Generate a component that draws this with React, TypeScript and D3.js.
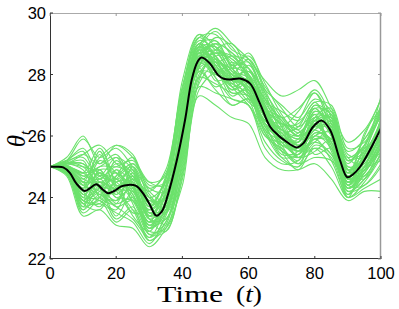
import React from "react";
import * as d3 from "d3";

const W = 399;
const H = 309;
const M = { left: 50, right: 18, top: 13, bottom: 50 };

const xTicks = [0, 20, 40, 60, 80, 100];
const yTicks = [22, 24, 26, 28, 30];

// mean trajectory (black)
const meanT = [0, 2, 4, 6, 8, 10.5, 12, 14, 16, 17.5, 19.5, 21.5, 23.6, 26, 28, 30, 32.1, 33.8, 35.6, 38.3, 40.8, 42.8, 44.5, 45.8, 48.3, 50.8, 52.5, 54.4, 57.4, 60.4, 63.4, 66.5, 69, 71, 74.5, 76.5, 79.5, 82.1, 84.6, 87.6, 89.8, 91.5, 93.7, 96.7, 100];
const meanV = [25.0, 25.0, 24.98, 24.8, 24.45, 24.21, 24.3, 24.43, 24.25, 24.14, 24.22, 24.36, 24.41, 24.38, 24.15, 23.8, 23.41, 23.55, 24.08, 25.2, 26.52, 27.82, 28.4, 28.55, 28.36, 27.98, 27.86, 27.84, 27.87, 27.71, 27.06, 26.3, 26.02, 25.85, 25.63, 25.76, 26.3, 26.5, 26.2, 25.22, 24.66, 24.75, 25.0, 25.55, 26.25];

// sample trajectories (green), knots every 5 time units
const sampleT = [0, 5, 10, 15, 20, 25, 30, 35, 40, 45, 50, 55, 60, 65, 70, 75, 80, 85, 90, 95, 100];
const samples: number[][] = [
  [25, 25.2, 25.9, 25.3, 25.6, 25.0, 24.3, 24.8, 27.4, 29.2, 29.3, 28.6, 28.2, 27.5, 27.0, 26.6, 27.2, 26.8, 25.5, 25.9, 27.0],
  [25, 24.8, 23.5, 23.9, 23.2, 23.6, 22.6, 23.2, 25.0, 27.6, 27.4, 27.2, 27.0, 25.8, 25.2, 25.0, 25.6, 25.3, 24.0, 24.5, 25.3],
  [25, 25.0, 24.5, 25.4, 24.6, 24.9, 23.9, 24.0, 26.2, 28.7, 28.5, 28.0, 27.5, 26.4, 25.8, 25.4, 26.8, 26.3, 24.5, 25.0, 26.6],
  [25, 24.9, 24.0, 24.2, 25.2, 24.5, 23.0, 23.5, 25.6, 28.4, 29.0, 28.3, 28.4, 27.2, 26.2, 25.9, 26.0, 26.5, 25.2, 25.6, 26.0],
  [25, 25.1, 25.2, 24.0, 23.8, 25.0, 24.1, 23.6, 26.8, 29.0, 28.2, 27.5, 27.9, 26.8, 26.5, 25.5, 26.3, 25.8, 24.3, 24.9, 25.8],
  [25, 24.75, 23.8, 23.6, 24.4, 23.4, 22.9, 24.2, 27.0, 28.9, 27.8, 27.9, 27.4, 26.0, 25.6, 25.2, 26.6, 26.9, 24.9, 24.6, 25.5],
  [25, 25.0, 24.7, 24.9, 24.0, 24.3, 23.3, 23.3, 24.8, 27.8, 28.8, 29.0, 28.0, 26.9, 26.4, 26.2, 25.4, 25.6, 24.0, 25.4, 26.9],
  [25, 24.9, 24.4, 25.0, 25.0, 25.2, 24.4, 24.5, 26.5, 28.9, 28.4, 27.6, 27.0, 26.2, 25.3, 25.0, 26.1, 25.9, 24.8, 26.0, 27.2],
  [25, 24.8, 23.9, 24.6, 24.0, 23.9, 23.1, 23.9, 26.1, 28.2, 27.6, 27.9, 28.1, 27.4, 26.6, 26.0, 26.9, 26.0, 24.2, 24.4, 25.1],
  [25, 25.2, 25.5, 24.5, 24.8, 24.2, 23.4, 24.4, 27.8, 29.3, 28.9, 28.1, 27.6, 26.6, 25.7, 25.6, 26.4, 26.6, 25.4, 25.3, 26.4],
  [25, 24.9, 24.1, 23.9, 23.6, 24.6, 23.8, 23.1, 25.2, 28.0, 28.6, 28.5, 27.8, 26.4, 26.0, 26.5, 27.4, 26.4, 24.6, 24.9, 26.2],
  [25, 24.85, 24.3, 24.8, 24.5, 24.9, 23.5, 23.7, 25.9, 28.6, 28.2, 27.3, 27.6, 27.0, 25.6, 25.1, 26.0, 26.1, 24.4, 25.5, 26.7],
  [25, 25.1, 24.9, 24.1, 24.9, 23.8, 22.7, 23.4, 26.4, 28.8, 29.4, 28.8, 28.5, 27.6, 26.9, 26.3, 26.7, 25.5, 24.6, 25.7, 26.9],
  [25, 24.75, 23.6, 24.4, 23.8, 24.0, 23.2, 24.6, 27.3, 28.7, 27.9, 27.0, 27.2, 26.1, 25.3, 25.4, 25.9, 25.2, 24.1, 24.8, 25.6],
  [25, 25.0, 24.8, 25.6, 24.4, 23.5, 23.6, 24.1, 26.0, 28.3, 28.7, 28.4, 27.3, 26.5, 26.1, 25.7, 26.2, 26.7, 25.0, 25.1, 26.1],
  [25, 24.9, 24.2, 23.7, 24.7, 25.3, 24.0, 23.8, 25.4, 28.1, 28.0, 27.7, 28.3, 27.3, 26.3, 25.3, 25.8, 26.2, 24.7, 25.4, 26.5],
  [25, 25.05, 24.6, 24.3, 23.3, 23.7, 22.8, 23.2, 25.7, 28.5, 29.1, 28.2, 27.7, 26.2, 25.9, 26.1, 26.5, 25.7, 24.4, 25.2, 25.9],
  [25, 24.8, 23.7, 24.9, 24.2, 24.7, 23.7, 24.3, 26.9, 29.0, 28.6, 27.8, 27.1, 26.7, 26.2, 25.8, 27.0, 26.5, 25.3, 25.0, 26.0],
  [25, 25.15, 25.4, 25.1, 25.4, 24.4, 23.2, 23.6, 26.3, 28.6, 28.0, 28.4, 28.0, 26.8, 25.5, 24.9, 25.7, 25.4, 24.3, 24.7, 25.4],
  [25, 24.85, 24.1, 24.5, 24.3, 25.1, 24.5, 24.7, 27.1, 28.9, 28.9, 28.1, 27.9, 26.9, 26.4, 26.4, 27.1, 27.0, 25.6, 25.8, 26.8],
  [25, 24.9, 23.9, 23.8, 23.5, 23.2, 22.5, 23.5, 25.3, 27.9, 27.7, 27.4, 27.3, 26.3, 25.5, 25.3, 25.6, 25.0, 24.0, 24.3, 24.6],
  [25, 25.05, 24.7, 24.6, 25.0, 24.6, 23.3, 23.8, 26.6, 28.8, 28.4, 28.6, 28.4, 27.1, 26.3, 25.6, 26.3, 26.3, 24.8, 25.6, 27.3],
  [25, 24.8, 23.7, 24.0, 24.9, 24.4, 23.1, 23.3, 25.1, 28.3, 28.7, 27.9, 27.2, 26.0, 25.8, 25.9, 26.9, 26.7, 24.9, 24.7, 25.7],
  [25, 25.1, 25.0, 24.8, 24.1, 24.6, 24.2, 24.9, 27.6, 29.2, 28.6, 27.4, 27.5, 26.8, 25.9, 25.5, 26.1, 25.9, 24.5, 25.3, 26.3],
  [25, 24.9, 24.2, 25.2, 24.8, 24.1, 22.9, 23.0, 24.6, 27.5, 28.1, 28.3, 28.6, 27.7, 26.7, 26.1, 26.6, 26.0, 24.2, 24.6, 25.8],
  [25, 25.0, 24.5, 23.9, 24.6, 25.0, 23.8, 24.0, 26.3, 28.6, 29.0, 28.7, 27.8, 26.3, 25.7, 25.8, 26.8, 26.4, 25.1, 25.9, 26.6],
  [25, 24.85, 23.9, 24.3, 23.4, 24.2, 23.4, 23.7, 25.8, 28.4, 27.9, 27.2, 27.0, 25.6, 25.1, 25.2, 26.0, 25.6, 24.1, 24.9, 25.2],
  [25, 25.1, 25.1, 24.7, 25.3, 24.3, 23.6, 24.3, 27.2, 29.1, 28.8, 28.0, 27.7, 27.1, 26.8, 26.5, 26.9, 26.1, 24.7, 25.2, 26.5],
  [25, 24.8, 23.8, 24.5, 24.2, 23.6, 22.6, 23.1, 25.5, 28.3, 28.4, 28.2, 28.2, 26.9, 26.0, 25.3, 25.5, 25.9, 24.4, 24.4, 25.0],
  [25, 24.95, 24.4, 24.1, 23.9, 24.8, 24.0, 24.5, 26.8, 28.8, 28.3, 27.6, 27.3, 26.4, 25.4, 25.5, 26.5, 26.8, 25.2, 25.5, 26.4],
  [25, 25.3, 26.0, 25.1, 25.7, 25.3, 24.5, 24.4, 26.4, 28.9, 29.5, 29.0, 28.5, 27.8, 27.3, 27.5, 27.8, 26.9, 25.8, 26.2, 27.2],
  [25, 24.7, 23.4, 23.6, 23.1, 23.0, 22.4, 23.0, 24.4, 27.3, 27.0, 26.6, 26.4, 25.3, 24.9, 24.9, 25.1, 24.6, 23.9, 24.2, 24.2],
  [25, 25.0, 24.6, 25.3, 25.7, 25.4, 24.2, 23.9, 25.5, 28.2, 29.2, 28.9, 27.9, 26.6, 26.3, 26.8, 27.5, 26.6, 24.9, 25.2, 26.1],
  [25, 24.9, 24.0, 24.0, 24.2, 24.7, 23.3, 22.9, 24.9, 27.7, 28.3, 27.9, 28.1, 27.0, 25.7, 25.1, 25.3, 25.2, 24.6, 26.1, 26.9],
  [25, 25.2, 25.6, 24.7, 24.5, 23.9, 23.0, 24.3, 27.5, 29.3, 28.5, 27.7, 27.4, 26.5, 26.4, 26.0, 26.7, 26.5, 24.7, 25.0, 25.6],
  [25, 24.9, 24.3, 25.5, 24.3, 24.2, 23.5, 24.0, 26.7, 28.7, 28.0, 28.0, 28.5, 27.4, 26.1, 25.7, 26.4, 25.8, 24.5, 25.4, 26.3],
  [25, 25.1, 25.4, 25.7, 25.1, 24.7, 23.7, 24.6, 27.0, 29.0, 29.1, 28.3, 28.0, 27.2, 26.6, 26.9, 27.4, 26.2, 25.3, 25.7, 26.7],
  [25, 24.8, 23.6, 24.1, 23.7, 23.3, 22.7, 23.8, 26.0, 28.1, 27.5, 27.0, 27.2, 26.1, 25.5, 25.4, 25.8, 25.4, 24.2, 24.6, 25.4],
  [25, 25.0, 24.8, 24.4, 24.7, 25.1, 24.3, 24.2, 26.1, 28.5, 28.8, 28.5, 28.0, 26.7, 25.9, 25.6, 26.6, 26.6, 24.8, 25.1, 26.2],
  [25, 24.9, 24.1, 24.7, 24.6, 24.0, 23.1, 23.6, 26.5, 28.9, 28.3, 27.8, 27.8, 27.2, 26.5, 26.0, 26.2, 25.7, 24.3, 25.0, 26.0],
  [25, 25.1, 25.1, 24.3, 23.9, 24.4, 23.9, 24.0, 25.9, 28.4, 29.0, 28.7, 28.2, 26.9, 26.0, 25.8, 26.5, 26.6, 25.2, 25.7, 26.8],
  [25, 24.85, 24.0, 24.9, 24.8, 24.3, 22.8, 22.9, 24.7, 27.9, 28.5, 28.0, 27.5, 26.3, 25.9, 25.3, 25.9, 25.9, 24.6, 24.9, 25.5],
  [25, 24.95, 24.5, 24.5, 24.1, 24.6, 23.7, 24.7, 27.6, 29.0, 28.3, 27.5, 27.7, 26.8, 25.9, 25.6, 26.5, 26.3, 24.9, 25.3, 26.5],
  [25, 25.05, 24.8, 25.0, 25.3, 24.9, 23.4, 23.5, 25.9, 28.7, 28.9, 28.2, 27.4, 26.4, 26.1, 26.3, 27.1, 26.0, 24.4, 25.0, 26.1],
  [25, 24.8, 23.9, 23.8, 24.5, 24.5, 23.6, 24.1, 26.2, 28.5, 28.1, 28.2, 28.7, 27.5, 26.4, 25.7, 26.2, 26.4, 24.9, 25.5, 26.3],
  [25, 25.2, 25.3, 24.6, 25.1, 24.8, 23.8, 24.6, 27.3, 28.9, 28.6, 27.9, 27.5, 26.5, 26.2, 25.9, 26.4, 25.6, 24.3, 24.8, 25.9],
  [25, 24.9, 24.4, 24.2, 23.7, 23.9, 23.0, 23.6, 25.6, 28.2, 28.4, 28.0, 27.8, 26.8, 25.8, 25.4, 26.3, 26.2, 24.6, 25.0, 25.6],
  [25, 25.0, 24.3, 24.8, 24.4, 24.4, 23.4, 24.1, 26.5, 28.6, 28.4, 27.8, 27.6, 26.6, 26.2, 26.0, 26.6, 26.2, 24.7, 25.4, 26.4],
  [25, 25.15, 25.0, 24.4, 24.3, 24.7, 24.0, 23.5, 25.3, 28.3, 28.7, 28.6, 27.9, 26.9, 26.6, 26.2, 27.0, 26.7, 25.0, 25.3, 26.6],
  [25, 24.85, 23.8, 24.3, 24.6, 24.1, 23.2, 23.8, 26.4, 28.8, 28.2, 27.6, 27.8, 27.0, 26.0, 25.5, 25.9, 25.8, 24.5, 24.8, 25.8],
];

export default function App() {
  const x = d3.scaleLinear().domain([0, 100]).range([M.left, W - M.right]);
  const y = d3.scaleLinear().domain([22, 30]).range([H - M.bottom, M.top]);
  const x0 = x(0), x1 = x(100), y0 = y(22), y1 = y(30);

  const sampleLine = d3
    .line<number>()
    .x((_, i) => x(sampleT[i]))
    .y((v) => y(v))
    .curve(d3.curveCatmullRom.alpha(0.5));
  const meanLine = d3
    .line<number>()
    .x((_, i) => x(meanT[i]))
    .y((v) => y(v))
    .curve(d3.curveCatmullRom.alpha(0.5));

  const tickFont = "'Liberation Sans', Arial, Helvetica, sans-serif";
  const serif = "'Liberation Serif', 'DejaVu Serif', 'Times New Roman', serif";

  return (
    <svg
      width={W}
      height={H}
      style={{ position: "absolute", left: 0, top: 0, display: "block" }}
    >
      <rect x={0} y={0} width={W} height={H} fill="#fff" />
      <defs>
        <clipPath id="plotclip">
          <rect x={x0} y={y1} width={x1 - x0} height={y0 - y1} />
        </clipPath>
      </defs>
      <g clipPath="url(#plotclip)">
        {samples.map((s, i) => (
          <path
            key={i}
            d={sampleLine(s) || ""}
            fill="none"
            stroke="#6ce26c"
            strokeWidth={1.1}
          />
        ))}
        <path d={meanLine(meanV) || ""} fill="none" stroke="#000" strokeWidth={2} />
      </g>
      {/* box */}
      <line x1={x0} x2={x1} y1={y1 + 0.5} y2={y1 + 0.5} stroke="#aaa" strokeWidth={1} />
      <line x1={x1 - 0.5} x2={x1 - 0.5} y1={y1} y2={y0} stroke="#999" strokeWidth={1.5} />
      <line x1={x0} x2={x1} y1={y0 - 0.5} y2={y0 - 0.5} stroke="#333" strokeWidth={1} />
      <line x1={x0 + 0.5} x2={x0 + 0.5} y1={y1} y2={y0} stroke="#333" strokeWidth={1} />
      {/* x ticks */}
      {xTicks.map((t) => (
        <g key={"x" + t}>
          <line x1={x(t)} x2={x(t)} y1={y0} y2={y0 - 3} stroke="#333" />
          <line x1={x(t)} x2={x(t)} y1={y1} y2={y1 + 3} stroke="#999" />
          <text
            x={x(t)}
            y={y0 + 19.5}
            textAnchor="middle"
            fontFamily={tickFont}
            fontSize={16.5}
            fill="#000"
          >
            {t}
          </text>
        </g>
      ))}
      {/* y ticks */}
      {yTicks.map((t) => (
        <g key={"y" + t}>
          <line x1={x0} x2={x0 + 3} y1={y(t)} y2={y(t)} stroke="#333" />
          <line x1={x1} x2={x1 - 3} y1={y(t)} y2={y(t)} stroke="#999" />
          <text
            x={x0 - 4}
            y={y(t) + 6}
            textAnchor="end"
            fontFamily={tickFont}
            fontSize={16.5}
            fill="#000"
          >
            {t}
          </text>
        </g>
      ))}
      {/* axis labels */}
      <text
        x={157}
        y={301.5}
        fontFamily={serif}
        fontSize={23}
        textLength={66}
        lengthAdjust="spacingAndGlyphs"
        fill="#000"
      >
        Time
      </text>
      <text
        x={236}
        y={301.5}
        fontFamily={serif}
        fontSize={23}
        textLength={26}
        lengthAdjust="spacingAndGlyphs"
        fill="#000"
      >
        (<tspan fontStyle="italic">t</tspan>)
      </text>
      <text
        transform={`translate(25,${139}) rotate(-90)`}
        textAnchor="middle"
        fontFamily={serif}
        fontSize={25}
        fill="#000"
      >
        <tspan fontStyle="italic">θ</tspan>
        <tspan fontStyle="italic" fontSize={15} dy={5}>t</tspan>
      </text>
    </svg>
  );
}
